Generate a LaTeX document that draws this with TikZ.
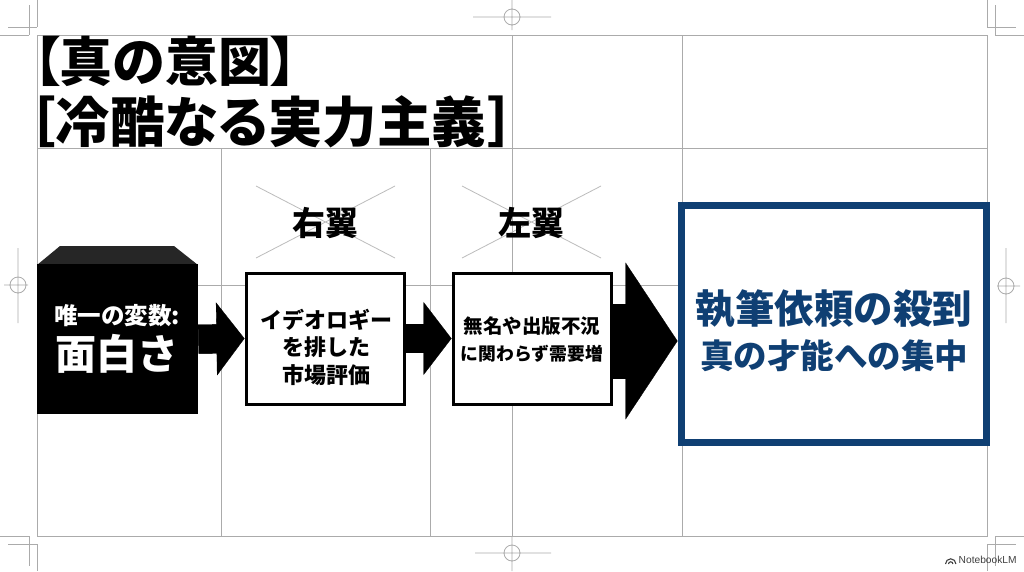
\documentclass[tikz,border=0pt]{standalone}
\usepackage{fontspec}
\usetikzlibrary{arrows.meta}
\newfontfamily\jpb{Noto Sans CJK JP Black}
\newfontfamily\jpp[RawFeature=+palt]{Noto Sans CJK JP Black}
\setmainfont{Liberation Sans}
\definecolor{navy}{HTML}{0F3F73}
\definecolor{gridc}{HTML}{ABABAB}
\tikzset{
  gridline/.style={draw=gridc,line width=0.9pt},
  markline/.style={draw=gridc,line width=0.8pt},
  xline/.style={draw=gridc!80,line width=0.8pt},
  boxw/.style={draw=black,fill=white,line width=3pt,minimum width=158pt,minimum height=131pt,inner sep=0pt,anchor=north west,align=center,text=black},
  boxk/.style={fill=black,minimum width=161pt,minimum height=150pt,inner sep=0pt,anchor=north west},
  boxb/.style={draw=navy,fill=white,line width=7pt,minimum width=305pt,minimum height=237pt,inner sep=0pt,anchor=north west},
  txt/.style={inner sep=0pt,align=center},
  ttl/.style={inner sep=0pt,anchor=west},
  wing/.style={inner sep=0pt,font=\jpb\fontsize{33}{33}\selectfont},
  smallhead/.style={black,line width=29pt,-{Triangle[length=28pt,width=73pt,line width=0.3pt]}},
  smallshaft/.style={black,line width=29pt,shorten >=24pt},
  bighead/.style={black,line width=75pt,-{Triangle[length=52pt,width=157pt,line width=0.3pt]}},
  bigshaft/.style={black,line width=75pt,shorten >=46pt}
}
\begin{document}
\begin{tikzpicture}[x=1pt,y=-1pt]
\useasboundingbox (0,0) rectangle (1024,571);
\fill[white] (0,0) rectangle (1024,571);
% grid
\draw[gridline] (37,35) rectangle (987,536);
\draw[gridline] (37,148) -- (987,148);
\draw[gridline] (37,285) -- (987,285);
\draw[gridline] (221,148) -- (221,536);
\draw[gridline] (430,148) -- (430,536);
\draw[gridline] (512,35) -- (512,536);
\draw[gridline] (682,35) -- (682,536);
% corner marks
\draw[markline] (0,35) -- (29,35) (37,0) -- (37,27) (29,5) -- (29,35) (8,27) -- (37,27);
\draw[markline] (987,0) -- (987,27) (995,35) -- (1024,35) (995,5) -- (995,35) (987,27) -- (1016,27);
\draw[markline] (0,536) -- (29,536) (37,544) -- (37,571) (29,536) -- (29,566) (8,544) -- (37,544);
\draw[markline] (995,536) -- (1024,536) (987,544) -- (987,571) (995,536) -- (995,566) (987,544) -- (1016,544);
% registration marks
\draw[markline] (512,17) circle (8) (473,17) -- (551,17) (512,0) -- (512,30);
\draw[markline] (512,553) circle (8) (475,553) -- (551,553) (512,536) -- (512,571);
\draw[markline] (18,285) circle (8) (4,285) -- (28,285) (18,248) -- (18,323);
\draw[markline] (1006,286) circle (8) (997,286) -- (1020,286) (1006,248) -- (1006,323);
% title
\node[ttl,font=\jpp\fontsize{53}{53}\selectfont] (t1) at (33,61) {【真の意図】};
\node[ttl,font=\jpp\fontsize{54.5}{54.5}\selectfont] (t2) at (28,122) {［冷酷なる実力主義\kern2.5pt］};
% crossed-out wings
\draw[xline] (256,186) -- (395,258) (395,186) -- (256,258);
\draw[xline] (462,186) -- (601,258) (601,186) -- (462,258);
\node[wing] (right) at (325,223) {右翼};
\node[wing] (left) at (531,223) {左翼};
% black box
\fill[fill=black!85] (37,265) -- (60,246) -- (174,246) -- (198,265) -- cycle;
\node[boxk] (src) at (37,264) {};
\node[txt,text=white,font=\jpb\fontsize{23.5}{23.5}\selectfont] (s1) at (117,316) {唯一の変数:};
\node[txt,text=white,font=\jpb\fontsize{41}{41}\selectfont] (s2) at (117,354) {面白さ};
% white boxes
\node[boxw] (mid) at (244.5,271.5) {};
\node[txt,font=\jpb\fontsize{22}{27.5}\selectfont] (midt) at (326,347) {イデオロギー\\を排した\\市場評価};
\node[boxw] (nxt) at (451.5,271.5) {};
\node[txt,font=\jpb\fontsize{19.5}{19.5}\selectfont] (n1) at (532,326) {無名や出版不況};
\node[txt,font=\jpb\fontsize{17.8}{17.8}\selectfont] (n2) at (532,354) {に関わらず需要増};
% blue box
\node[boxb] (res) at (677.5,201.5) {};
\node[txt,text=navy,font=\jpb\fontsize{39.5}{39.5}\selectfont] (r1) at (834,309) {執筆依頼の殺到};
\node[txt,text=navy,font=\jpb\fontsize{33.5}{33.5}\selectfont] (r2) at (834,356) {真の才能への集中};
% block arrows
\draw[smallshaft] (src.east) -- (mid.west);
\draw[smallhead] (src.east) -- (mid.west);
\draw[smallshaft] (mid.east) -- (nxt.west);
\draw[smallhead] (mid.east) -- (nxt.west);
\draw[bigshaft] ([yshift=-2.5pt]nxt.east) -- ([yshift=-2.5pt]nxt.east -| res.west);
\draw[bighead] ([yshift=-2.5pt]nxt.east) -- ([yshift=-2.5pt]nxt.east -| res.west);
% footer
\draw[black!75,line width=1.1pt] (945.5,564) arc (180:360:5.2) (948.5,564) arc (180:360:2.2);
\node[inner sep=0pt,anchor=west,text=black!75,font=\fontsize{10.2}{10.2}\selectfont] (nlm) at (958.5,560) {NotebookLM};
\end{tikzpicture}
\end{document}
